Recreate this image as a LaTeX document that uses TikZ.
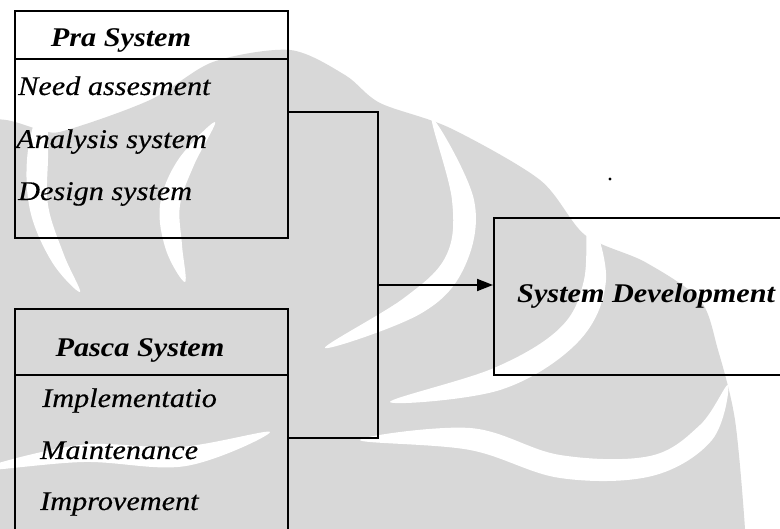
\documentclass[tikz,border=0pt]{standalone}
\usepackage{fontspec}
\setmainfont{Liberation Serif}[ItalicFeatures={FakeBold=0.35}]
\usetikzlibrary{arrows.meta}
\definecolor{wm}{RGB}{216,216,216}
\tikzset{
  box/.style={draw=black, line width=1.8pt, rectangle, inner sep=0pt, anchor=north west},
  divider/.style={draw=black, line width=1.8pt},
  link/.style={draw=black, line width=1.8pt},
  arrowlink/.style={link, -{Triangle[length=16pt,width=12pt]}},
  head/.style={anchor=base, inner sep=0pt, font=\fontsize{27}{32}\selectfont\bfseries\itshape},
  item/.style={anchor=base west, inner sep=0pt, font=\fontsize{27}{32}\selectfont\itshape},
  gap/.style={fill=white},
}
\newcommand{\wide}[1]{\scalebox{1.12}[1]{#1}}
\begin{document}
\begin{tikzpicture}[x=1pt,y=-1pt]
\useasboundingbox (0,0) rectangle (780,529);
\clip (0,0) rectangle (780,529);
\fill[white] (0,0) rectangle (780,529);
% watermark (approximate)
\fill[wm] plot[smooth cycle] coordinates {(-30,150) (60,132) (150,100) (213,62) (290,50) (345,75) (380,103) (450,128) (540,180) (585,235) (645,262) (700,300) (718,350) (735,420) (745,529) (745,570) (-30,570)};
\fill[gap] plot[smooth cycle, tension=0.6] coordinates {(45,95) (28,150) (30,210) (52,262) (80,292) (64,255) (48,205) (48,150)};
\fill[gap] plot[smooth cycle, tension=0.6] coordinates {(215,122) (178,160) (160,205) (166,250) (185,282) (182,245) (180,205) (194,165)};
\fill[gap] plot[smooth cycle, tension=0.6] coordinates {(432,118) (474,200) (464,268) (420,314) (325,348) (404,298) (446,256) (452,200)};
\fill[gap] plot[smooth cycle, tension=0.6] coordinates {(588,212) (606,280) (578,342) (500,390) (390,402) (494,368) (560,328) (584,280)};
\fill[gap] plot[smooth cycle, tension=0.6] coordinates {(360,440) (470,428) (560,455) (650,456) (700,425) (728,385) (712,440) (652,476) (560,478) (470,450)};
\fill[gap] plot[smooth cycle, tension=0.6] coordinates {(-20,470) (80,445) (180,447) (270,432) (186,466) (84,462)};
\fill[black] (610,179) circle[radius=1.6];
% boxes
\node[box, minimum width=273pt, minimum height=227pt] (pra) at (14,10) {};
\node[box, minimum width=273pt, minimum height=252pt] (pasca) at (14,308) {};
\node[box, minimum width=310pt, minimum height=157pt] (dev) at (493,217) {};
\draw[divider] (14,59) -- (287,59);
\draw[divider] (14,375) -- (287,375);
% texts
\node[head] (prah) at (121,47) {\wide{Pra System}};
\node[item] (i1) at (18,95) {\wide{Need assesment}};
\node[item] (i2) at (16,148) {\wide{Analysis system}};
\node[item] (i3) at (18,200) {\wide{Design system}};
\node[head] (pascah) at (140,357) {\wide{Pasca System}};
\node[item] (i4) at (42,407) {\wide{Implementatio}};
\node[item] (i5) at (40,459) {\wide{Maintenance}};
\node[item] (i6) at (40,510) {\wide{Improvement}};
\node[head, anchor=base west] (devt) at (517,303) {\wide{System Development}};
% connectors
\coordinate (j1) at (378,112);
\coordinate (j2) at (378,438);
\coordinate (ja) at (378,285);
\draw[link] (pra.east |- j1) -- (j1) -- (j2) -- (pasca.east |- j2);
\draw[arrowlink] (ja) -- (dev.west |- ja);
\end{tikzpicture}
\end{document}
